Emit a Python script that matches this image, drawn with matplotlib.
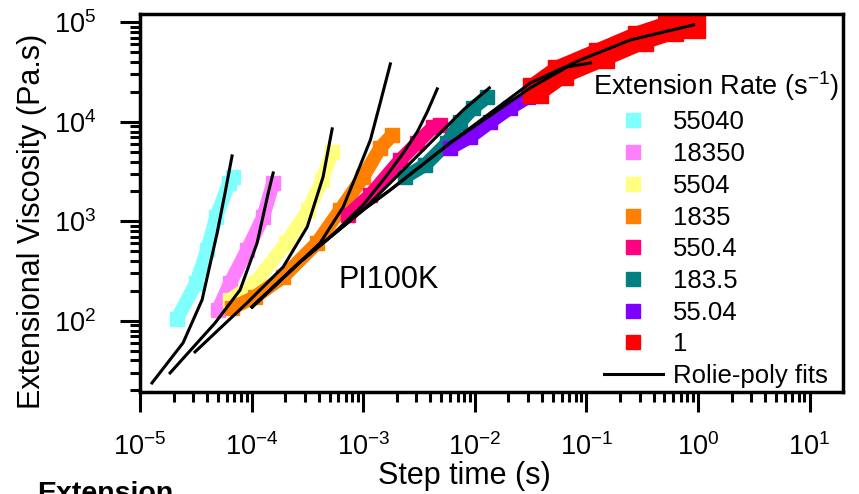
import matplotlib
matplotlib.use("Agg")
import matplotlib.pyplot as plt
from matplotlib.lines import Line2D

plt.rcParams['font.family'] = ['Liberation Sans', 'DejaVu Sans']
plt.rcParams['mathtext.fontset'] = 'custom'
plt.rcParams['mathtext.rm'] = 'Liberation Sans'
plt.rcParams['mathtext.it'] = 'Liberation Sans'

# 数据: 拉伸速率 (s^-1) 及对应的拉伸粘度
rates = ['55040', '18350', '5504', '1835', '550.4', '183.5', '55.04', '1']
colors = ['#80FFFF', '#FF80FF', '#FFFF80', '#FF8000', '#FF0080', '#008080', '#8000FF', '#FF0000']

t_55040 = [2.15e-5, 3.18e-5, 3.99e-5, 4.81e-5, 6.28e-5, 6.82e-5]
eta_55040 = [105, 241, 517, 1109, 2438, 2800]
t_18350 = [5.0e-5, 6.42e-5, 9.12e-5, 1.27e-4, 1.56e-4]
eta_18350 = [129, 241, 517, 1109, 2438]
t_5504 = [6.42e-5, 1.07e-4, 2.04e-4, 3.21e-4, 4.29e-4, 5.27e-4]
eta_5504 = [163, 241, 608, 1305, 2614, 4992]
t_1835 = [6.68e-5, 1.07e-4, 1.92e-4, 3.86e-4, 6.22e-4, 1.0e-3, 1.42e-3, 1.82e-3]
eta_1835 = [135, 174, 277, 608, 1305, 2800, 5480, 7400]
t_550 = [7.33e-4, 1.16e-3, 2.15e-3, 3.05e-3, 4.25e-3, 4.91e-3]
eta_550 = [1162, 1846, 4150, 6150, 8910, 9330]
t_183 = [2.38e-3, 3.60e-3, 5.66e-3, 7.41e-3, 9.70e-3, 1.29e-2]
eta_183 = [2800, 3700, 6150, 10000, 13840, 17830]
t_55 = [6.03e-3, 9.12e-3, 1.38e-2, 2.08e-2, 3.02e-2]
eta_55 = [5480, 7070, 10000, 13840, 17830]
t_1 = [3.49e-2, 5.85e-2, 0.134, 0.305, 0.566, 0.893]
eta_1 = [20980, 31810, 47120, 69850, 88100, 94400]

exp_t = [t_55040, t_18350, t_5504, t_1835, t_550, t_183, t_55, t_1]
exp_eta = [eta_55040, eta_18350, eta_5504, eta_1835, eta_550, eta_183, eta_55, eta_1]

# Rolie-poly 拟合曲线
fit_t_55040 = [1.28e-5, 2.43e-5, 3.60e-5, 4.91e-5, 5.78e-5, 6.68e-5]
fit_eta_55040 = [23.8, 60.1, 163, 766, 1933, 4550]
fit_t_18350 = [1.86e-5, 4.71e-5, 7.89e-5, 1.12e-4, 1.41e-4, 1.56e-4]
fit_eta_18350 = [30.0, 95.5, 205, 608, 1933, 3070]
fit_t_5504 = [3.11e-5, 9.12e-5, 1.92e-4, 3.15e-4, 4.37e-4, 5.27e-4]
fit_eta_5504 = [48.8, 152, 349, 881, 2800, 8510]
fit_t_1835 = [1.01e-4, 2.72e-4, 4.11e-4, 6.62e-4, 8.83e-4, 1.16e-3, 1.42e-3, 1.75e-3]
fit_eta_1835 = [138, 392, 608, 1400, 3070, 6590, 15530, 38280]
fit_t_550 = [1.01e-4, 2.72e-4, 5.06e-4, 1.0e-3, 1.64e-3, 2.29e-3, 3.05e-3, 3.75e-3, 4.61e-3]
fit_eta_550 = [138, 392, 698, 1466, 2933, 4878, 7930, 12610, 21480]
fit_t_183 = [1.01e-4, 2.72e-4, 1.0e-3, 2.29e-3, 3.99e-3, 7.89e-3, 1.35e-2]
fit_eta_183 = [138, 392, 1305, 3300, 6150, 13200, 21980]
fit_t_55 = [1.01e-4, 2.72e-4, 1.0e-3, 1.75e-3, 6.03e-3, 3.15e-2, 6.76e-2, 0.109]
fit_eta_55 = [138, 392, 1305, 2074, 6150, 21980, 35700, 39170]
fit_t_1 = [1.01e-4, 2.72e-4, 1.0e-3, 1.75e-3, 6.03e-3, 3.15e-2, 8.83e-2, 0.248, 0.912]
fit_eta_1 = [138, 392, 1305, 2074, 6150, 24660, 41980, 66680, 94400]

fit_t = [fit_t_55040, fit_t_18350, fit_t_5504, fit_t_1835, fit_t_550, fit_t_183, fit_t_55, fit_t_1]
fit_eta = [fit_eta_55040, fit_eta_18350, fit_eta_5504, fit_eta_1835, fit_eta_550, fit_eta_183, fit_eta_55, fit_eta_1]

fig = plt.figure(figsize=(8.59, 4.94), dpi=100)
ax = fig.add_axes([0.163, 0.2065, 0.818, 0.7655])

for i in range(len(rates)):
    w = 18 if rates[i] == '1' else 10
    ax.plot(exp_t[i], exp_eta[i], color=colors[i], lw=w, marker='s', ms=w,
            mec=colors[i], solid_capstyle='butt', solid_joinstyle='miter', zorder=2)

for i in range(len(fit_t)):
    ax.plot(fit_t[i], fit_eta[i], color='black', lw=2.2, zorder=3)

ax.set_xscale('log')
ax.set_yscale('log')
ax.set_xlim(1e-5, 19.8)
ax.set_ylim(19.3, 1.22e5)

ax.set_xticks([1e-5, 1e-4, 1e-3, 1e-2, 1e-1, 1e0, 1e1])
ax.set_xticklabels(['10$^{-5}$', '10$^{-4}$', '10$^{-3}$', '10$^{-2}$', '10$^{-1}$', '10$^{0}$', '10$^{1}$'])
ax.set_yticks([1e2, 1e3, 1e4, 1e5])
ax.set_yticklabels(['10$^{2}$', '10$^{3}$', '10$^{4}$', '10$^{5}$'])

for s in ax.spines.values():
    s.set_linewidth(2.5)
ax.tick_params(which='major', direction='out', length=14.5, width=2.2, labelsize=19.5)
ax.tick_params(which='minor', direction='out', length=7.5, width=2.2)
ax.tick_params(axis='x', which='major', pad=15)
ax.tick_params(axis='y', which='major', pad=17)

ax.set_xlabel('Step time (s)', fontsize=22, labelpad=0.5)
ax.set_ylabel('Extensional Viscosity (Pa.s)', fontsize=22, labelpad=5)
ax.xaxis.label.set_x(0.461)
ax.yaxis.label.set_y(0.45)

ax.text(1.7e-3, 260, 'PI100K', fontsize=22, ha='center', va='center')

handles = [Line2D([], [], ls='none', marker='s', ms=9.5, color=c) for c in colors]
handles.append(Line2D([], [], color='black', lw=2.2))
labels = rates + ['Rolie-poly fits']
leg = ax.legend(handles, labels, title='Extension Rate (s$^{-1}$)', loc='lower right',
                bbox_to_anchor=(1.0, 0.0), frameon=False, fontsize=18.5, title_fontsize=19.5,
                handlelength=2.3, handletextpad=0.4, labelspacing=0.3, borderaxespad=0.05,
                borderpad=0.1)

fig.text(37 / 859, 13 / 494, 'Extension', fontsize=20.5, fontweight='bold', va='top')

fig.savefig('out.png', dpi=100)
